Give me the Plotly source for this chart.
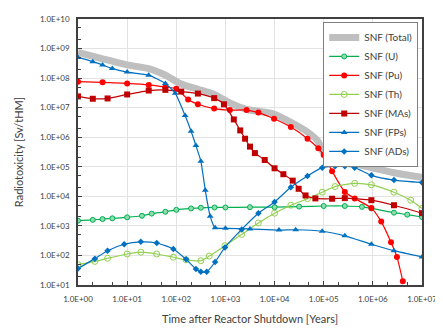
import plotly.graph_objects as go

# ---- data ----
t_total = [1, 3.16, 10, 27.5, 60, 126, 275, 590, 1230, 2690, 10000, 21400, 46800, 77600, 93300, 148000, 269000, 933000, 2690000, 1e7]
v_total = [7.4e8, 4.5e8, 2.8e8, 2.1e8, 1.26e8, 6.3e7, 4.2e7, 2.8e7, 1.45e7, 8.7e6, 6.0e6, 3.2e6, 1.5e6, 7.1e5, 3.5e5, 2.0e5, 1.55e5, 9.3e4, 6.3e4, 4.4e4]

t_u = [1, 2, 3.16, 5, 10, 20, 31.6, 60, 100, 200, 316, 600, 1000, 3160, 10000, 31600, 100000, 269000, 600000, 933000, 2690000, 5000000, 1e7]
v_u = [1.5e3, 1.6e3, 1.7e3, 1.8e3, 1.95e3, 2.2e3, 2.6e3, 3.0e3, 3.5e3, 3.9e3, 4.1e3, 4.2e3, 4.2e3, 4.3e3, 4.3e3, 4.5e3, 4.7e3, 4.7e3, 4.4e3, 3.9e3, 2.8e3, 2.4e3, 2.0e3]

t_pu = [1, 3.16, 10, 27.5, 60, 100, 174, 275, 590, 1230, 2690, 4680, 9770, 21400, 46800, 77600, 100000, 148000, 269000, 427000, 933000, 1480000, 2340000, 3090000, 4070000]
v_pu = [7.6e7, 7.2e7, 6.6e7, 5.9e7, 5.0e7, 4.4e7, 1.9e7, 1.3e7, 9.3e6, 8.3e6, 8.3e6, 6.8e6, 4.2e6, 2.2e6, 8.9e5, 4.2e5, 2.5e5, 7.1e4, 1.4e4, 8.5e3, 4.0e3, 1.4e3, 2.8e2, 8.9e1, 1.35e1]

t_th = [1, 2.2, 4, 10, 19, 40, 87, 158, 316, 468, 977, 2140, 4680, 10000, 21400, 46800, 93300, 170000, 427000, 933000, 2690000, 5890000, 1e7]
v_th = [49, 63, 80, 112, 129, 112, 87, 71, 66, 95, 214, 513, 1260, 2690, 5000, 8300, 13800, 21400, 27500, 24500, 13800, 7400, 3900]

t_mas = [1, 2, 4, 10, 27.5, 60, 126, 275, 590, 933, 1480, 2000, 2510, 3160, 3980, 6310, 10000, 15100, 23400, 30900, 42700, 67600, 148000, 269000, 933000, 2690000, 1e7]
v_mas = [2.4e7, 2.0e7, 2.05e7, 2.8e7, 3.8e7, 4.0e7, 3.5e7, 3.0e7, 2.1e7, 1.3e7, 4.0e6, 1.7e6, 8.9e5, 4.8e5, 2.9e5, 1.7e5, 8.9e4, 5.6e4, 3.4e4, 1.8e4, 1.07e4, 8.5e3, 8.3e3, 8.7e3, 7.4e3, 5.0e3, 2.7e3]

t_fps = [1, 2, 3.16, 5, 10, 27.5, 60, 95, 151, 200, 251, 316, 389, 490, 617, 1000, 3160, 12300, 26900, 93300, 269000, 933000, 2690000, 1e7]
v_fps = [5.0e8, 3.6e8, 2.8e8, 2.1e8, 1.6e8, 1.26e8, 6.6e7, 3.1e7, 5.4e6, 1.6e6, 5.2e5, 1.55e5, 1.6e4, 2.1e3, 8.7e2, 8.3e2, 7.9e2, 7.2e2, 7.4e2, 6.6e2, 4.6e2, 2.4e2, 1.45e2, 89]

t_ads = [1, 2.2, 4, 8.7, 19, 40, 87, 158, 251, 316, 417, 617, 977, 2140, 4680, 10000, 21400, 46800, 93300, 170000, 269000, 427000, 933000, 2690000, 1e7]
v_ads = [36, 78, 145, 240, 288, 263, 166, 74, 35, 28, 28, 60, 186, 760, 2690, 6460, 20400, 49000, 93300, 105000, 105000, 93300, 51300, 35500, 29500]

tick_x = [1, 10, 100, 1e3, 1e4, 1e5, 1e6, 1e7]
tick_x_text = ["1.0E+00", "1.0E+01", "1.0E+02", "1.0E+03", "1.0E+04", "1.0E+05", "1.0E+06", "1.0E+07"]
tick_y = [1e1, 1e2, 1e3, 1e4, 1e5, 1e6, 1e7, 1e8, 1e9, 1e10]
tick_y_text = ["1.0E+01", "1.0E+02", "1.0E+03", "1.0E+04", "1.0E+05", "1.0E+06", "1.0E+07", "1.0E+08", "1.0E+09", "1.0E+10"]

FONT = "Lato"
fig = go.Figure()

fig.add_trace(go.Scatter(x=t_total, y=v_total, name="SNF (Total)", mode="lines",
                         line=dict(color="#BFBFBF", width=7, shape="spline", smoothing=0.6)))
fig.add_trace(go.Scatter(x=t_u, y=v_u, name="SNF (U)", mode="lines+markers",
                         line=dict(color="#00B050", width=1.2, shape="spline", smoothing=0.6),
                         marker=dict(symbol="circle", size=5, color="#8FDCAE", line=dict(color="#00B050", width=1))))
fig.add_trace(go.Scatter(x=t_pu, y=v_pu, name="SNF (Pu)", mode="lines+markers",
                         line=dict(color="#FF0000", width=1.2, shape="spline", smoothing=0.5),
                         marker=dict(symbol="circle", size=6, color="#FF0000")))
fig.add_trace(go.Scatter(x=t_th, y=v_th, name="SNF (Th)", mode="lines+markers",
                         line=dict(color="#92D050", width=1.2, shape="spline", smoothing=0.6),
                         marker=dict(symbol="circle-open", size=6, color="#92D050", line=dict(width=1))))
fig.add_trace(go.Scatter(x=t_mas, y=v_mas, name="SNF (MAs)", mode="lines+markers",
                         line=dict(color="#C00000", width=1.2, shape="spline", smoothing=0.5),
                         marker=dict(symbol="square", size=6, color="#C00000")))
fig.add_trace(go.Scatter(x=t_fps, y=v_fps, name="SNF (FPs)", mode="lines+markers",
                         line=dict(color="#0070C0", width=1.2, shape="spline", smoothing=0.5),
                         marker=dict(symbol="triangle-up", size=6, color="#0070C0")))
fig.add_trace(go.Scatter(x=t_ads, y=v_ads, name="SNF (ADs)", mode="lines+markers",
                         line=dict(color="#0070C0", width=1.2, shape="spline", smoothing=0.6),
                         marker=dict(symbol="diamond", size=5, color="#0070C0")))

axis_common = dict(showline=True, linecolor="#404040", linewidth=1.5, mirror=True,
                   showgrid=True, gridcolor="#E3E3E3", gridwidth=1, zeroline=False,
                   ticks="inside", ticklen=4, tickcolor="#404040",
                   tickfont=dict(family=FONT, size=8, color="#404040"),
                   minor=dict(ticks="inside", ticklen=3, tickcolor="#404040", showgrid=False))

fig.update_xaxes(type="log", range=[0, 7], tickvals=tick_x, ticktext=tick_x_text,
                 ticklabelstandoff=6, ticklabeloverflow="allow",
                 title=dict(text="Time after Reactor Shutdown [Years]", font=dict(family=FONT, size=11, color="#404040"), standoff=12),
                 **axis_common)
fig.update_yaxes(type="log", range=[1, 10], tickvals=tick_y, ticktext=tick_y_text,
                 ticklabelstandoff=5,
                 title=dict(text="Radiotoxicity [Sv/tHM]", font=dict(family=FONT, size=11, color="#404040"), standoff=14),
                 **axis_common)

fig.update_layout(
    width=435, height=322,
    margin=dict(l=70, r=14, t=6, b=43),
    paper_bgcolor="white", plot_bgcolor="white",
    font=dict(family=FONT, color="#404040"),
    legend=dict(x=0.989, y=0.989, xanchor="right", yanchor="top",
                bgcolor="white", bordercolor="#7F7F7F", borderwidth=1,
                font=dict(family=FONT, size=10, color="#404040"),
                tracegroupgap=0, itemwidth=30),
    showlegend=True,
)

fig.write_html("out.html")
